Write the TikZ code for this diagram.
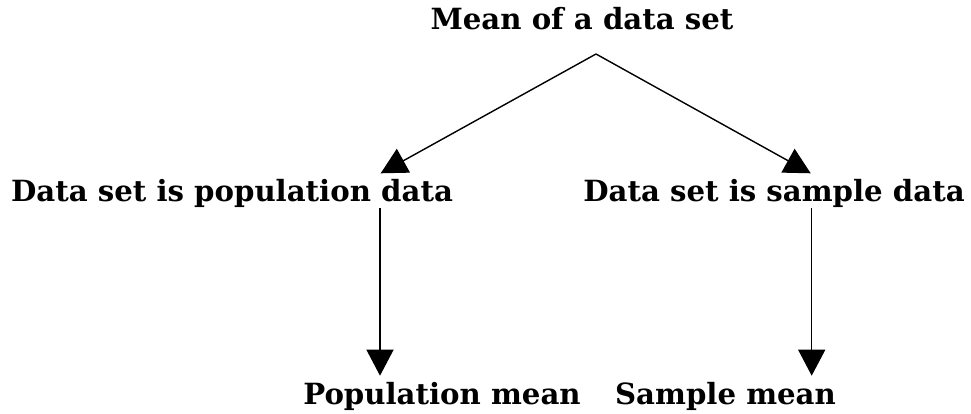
\documentclass[tikz,border=0pt]{standalone}
\usepackage{fontspec}
\setmainfont{DejaVu Serif}
\usetikzlibrary{arrows.meta}
\begin{document}
\begin{tikzpicture}[x=1pt,y=-1pt,
  lbl/.style={anchor=base,inner sep=0pt,font=\fontsize{29.2}{34}\selectfont\bfseries},
  conn/.style={line width=1.4pt,-{Triangle[length=26pt,width=27pt]}}]
\useasboundingbox[fill=white] (0,0) rectangle (971,414);
\node[lbl] (mean) at (582,30) {Mean of a data set};
\node[lbl] (pop) at (232,201) {Data set is population data};
\node[lbl] (samp) at (774,201) {Data set is sample data};
\node[lbl] (popm) at (442,404) {Population mean};
\node[lbl] (sampm) at (725.5,404) {Sample mean};
\coordinate (apex) at (596,54);
\coordinate (tipL) at (380.7,173.3);
\coordinate (tipR) at (810.7,173.3);
\coordinate (startL) at (380,208);
\coordinate (startR) at (811.7,208);
\coordinate (endL) at (380,375.7);
\coordinate (endR) at (811.7,375.7);
\draw[conn] (apex) -- (tipL);
\draw[conn] (apex) -- (tipR);
\draw[conn] (startL) -- (endL);
\draw[conn] (startR) -- (endR);
\end{tikzpicture}
\end{document}
